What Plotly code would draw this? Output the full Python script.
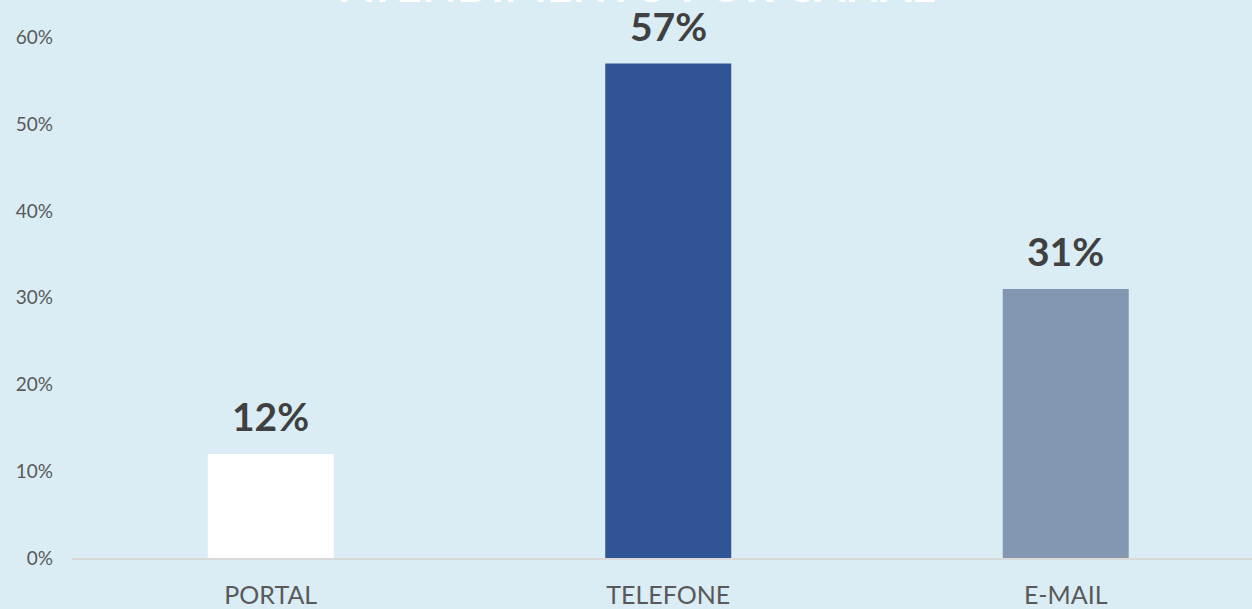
import plotly.graph_objects as go

categories = ["PORTAL", "TELEFONE", "E-MAIL"]
values = [0.12, 0.57, 0.31]
labels = ["12%", "57%", "31%"]
bar_colors = ["#FFFFFF", "#2F5597", "#8497B0"]
tick_vals = [0, 0.1, 0.2, 0.3, 0.4, 0.5, 0.6]
tick_text = ["0%", "10%", "20%", "30%", "40%", "50%", "60%"]
title_text = "ATENDIMENTO POR CANAL"

BG = "#DAEDF5"

fig = go.Figure()
fig.add_trace(go.Bar(
    x=categories, y=values,
    marker=dict(color=bar_colors, line=dict(width=0)),
    hoverinfo="skip",
))

for c, v, t in zip(categories, values, labels):
    fig.add_annotation(
        x=c, y=v, text=f"<b>{t}</b>", showarrow=False,
        yanchor="bottom", yshift=13,
        font=dict(family="Lato", size=39, color="#404040"),
    )

fig.add_annotation(
    x=0.479, xref="paper", y=1, yref="paper", yanchor="bottom", yshift=6,
    text=f"<b>{title_text}</b>", showarrow=False,
    font=dict(family="Lato", size=45, color="#FFFFFF"),
)

fig.update_layout(
    width=1252, height=609,
    paper_bgcolor=BG, plot_bgcolor=BG,
    margin=dict(l=72, r=0, t=20, b=51),
    bargap=0.683,
    showlegend=False,
    xaxis=dict(
        range=[-0.5, 2.4686],
        showline=True, linecolor="#D9D9D9", linewidth=2,
        showgrid=False, zeroline=False, ticks="",
        tickfont=dict(family="Lato", size=25, color="#595959"),
        ticklabelstandoff=14,
    ),
    yaxis=dict(
        range=[0, 0.6202],
        tickvals=tick_vals, ticktext=tick_text,
        showgrid=False, zeroline=False, showline=False, ticks="",
        tickfont=dict(family="Lato", size=19, color="#595959"),
        ticklabelstandoff=18,
    ),
)

fig.write_html(
    "out.html",
    config={"displayModeBar": False},
    post_script="document.body.style.margin='0';document.body.style.overflow='hidden';document.body.style.background='#DAEDF5';",
)
